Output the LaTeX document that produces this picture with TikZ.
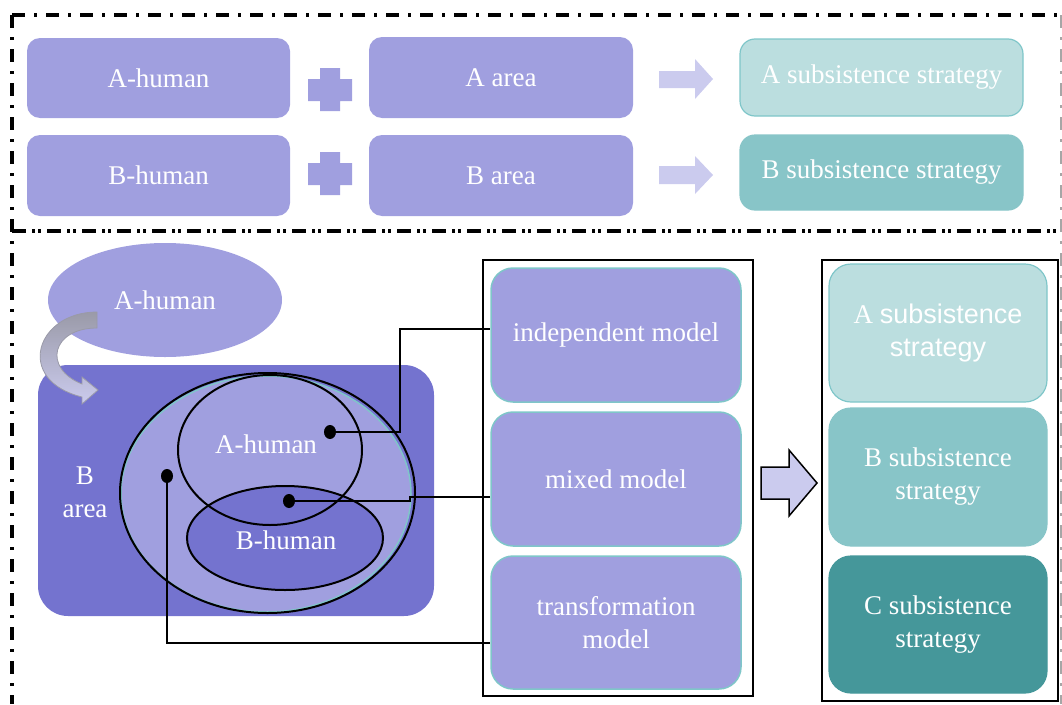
\documentclass[tikz,border=0pt]{standalone}
\usepackage{fontspec}
\setmainfont{Liberation Serif}
\newfontfamily\sansf{Liberation Sans}
\usetikzlibrary{shapes.geometric}
\definecolor{lav}{HTML}{A09FDF}
\definecolor{lavdark}{HTML}{7473CF}
\definecolor{lavlight}{HTML}{CBCBEE}
\definecolor{tealA}{HTML}{BBDEDF}
\definecolor{tealB}{HTML}{88C5C8}
\definecolor{tealC}{HTML}{45979A}
\definecolor{tealedge}{HTML}{7FC6C9}
\definecolor{arrgray}{HTML}{9A9AA8}
\tikzset{
  lbl/.style={text=white, font=\fontsize{27}{33}\selectfont, align=center, inner sep=0pt},
  topbox/.style={lbl, fill=lav, rounded corners=13pt},
  strbox/.style={lbl, rounded corners=15pt, line width=1.2pt},
  modelbox/.style={lbl, fill=lav, draw=tealedge, line width=1.5pt, rounded corners=22pt},
  frame/.style={draw=black, line width=1.5pt, inner sep=0pt},
  dot/.style={ellipse, fill=black, minimum width=12pt, minimum height=14pt, inner sep=0pt},
  ring/.style={ellipse, draw=black, line width=2pt, inner sep=0pt},
  conn/.style={draw=black, line width=2pt},
  dashdot/.style={line width=3.2pt, dash pattern=on 13pt off 9pt on 3pt off 9pt},
  dashdotdot/.style={line width=3.2pt, dash pattern=on 14pt off 6pt on 3pt off 3pt on 3pt off 6pt},
}
\begin{document}
\begin{tikzpicture}[x=1pt,y=-1pt]
\useasboundingbox (0,0) rectangle (1062,704);
% borders
\draw[dashdot] (12,15) -- (1062,15);
\draw[dashdot] (12,15) -- (12,704);
\draw[dashdot, line width=1.5pt, draw=black!35] (1061,15) -- (1061,704);
\draw[dashdotdot] (12,231) -- (1062,231);

% top row
\node[topbox, minimum width=263pt, minimum height=80pt] (ah) at (158.5,78) {A-human};
\node[topbox, minimum width=263pt, minimum height=81pt] (bh) at (158.5,175.5) {B-human};
\node[topbox, minimum width=264pt, minimum height=81pt] (aa) at (501,77.5) {A area};
\node[topbox, minimum width=264pt, minimum height=81pt] (ba) at (501,175.5) {B area};
\fill[lav] (320,68) rectangle (340,111) (308,79) rectangle (352,101);
\fill[lav] (320,152) rectangle (340,195) (308,163) rectangle (352,185);
\fill[lavlight] (659,71) -- (695,71) -- (695,59) -- (713,79) -- (695,99) -- (695,88) -- (659,88) -- cycle;
\fill[lavlight] (659,166) -- (695,166) -- (695,156) -- (713,175) -- (695,194) -- (695,184) -- (659,184) -- cycle;
\node[strbox, fill=tealA, draw=tealedge, minimum width=283pt, minimum height=77pt] (as) at (881.5,77.5) {A subsistence strategy};
\node[strbox, fill=tealB, draw=tealB, minimum width=283pt, minimum height=75pt] (bs) at (881.5,172.5) {B subsistence strategy};

% bottom left scene
\node[ellipse, fill=lav, minimum width=234pt, minimum height=114pt, inner sep=0pt] (ae) at (165,300) {};
\node[lbl] (aet) at (165,300) {A-human};
\node[fill=lavdark, rounded corners=30pt, minimum width=396pt, minimum height=251pt, inner sep=0pt] (barea) at (236,490.5) {};
\node[lbl] (bat) at (85,492) {B\\area};
\node[ellipse, fill=lav, draw=tealedge, line width=1.5pt, minimum width=290pt, minimum height=236pt, inner sep=0pt] (big) at (266,494) {};
\node[ring, minimum width=295pt, minimum height=240pt] (bigo) at (267.5,493) {};
\node[ring, fill=lavdark, minimum width=196pt, minimum height=104pt] (bhe) at (285,538) {};
\node[ring, minimum width=184pt, minimum height=150pt] (ahe) at (270,450) {};
\node[lbl] (ahet) at (266,444) {A-human};
\node[lbl] (bhet) at (286,540) {B-human};

% curved arrow
\path[draw=arrgray, line width=0.8pt, top color=arrgray, bottom color=lavlight]
  (97,312) -- (97,328) .. controls (52,328) and (42,368) .. (82,384)
  -- (82,377) -- (98,390) -- (82,404) -- (82,397)
  .. controls (14,380) and (36,312) .. (97,312) -- cycle;

% frames and model boxes
\node[frame, minimum width=270pt, minimum height=436pt] (lf) at (618,478) {};
\node[frame, minimum width=236pt, minimum height=441pt] (rf) at (940,480.5) {};
\node[modelbox, minimum width=250pt, minimum height=134pt] (ind) at (616,335) {independent model};
\node[modelbox, minimum width=250pt, minimum height=134pt] (mix) at (616,479) {mixed model};
\node[modelbox, minimum width=250pt, minimum height=133pt] (tra) at (616,622.5) {transformation\\model};

\node[strbox, rounded corners=22pt, fill=tealA, draw=tealedge, minimum width=218pt, minimum height=138pt] (sa) at (938,333) {A {\sansf subsistence}\\{\sansf strategy}};
\node[strbox, rounded corners=22pt, fill=tealB, draw=tealB, minimum width=218pt, minimum height=138pt] (sb) at (938,477) {B subsistence\\strategy};
\node[strbox, rounded corners=22pt, fill=tealC, draw=tealC, minimum width=218pt, minimum height=137pt] (sc) at (938,624.5) {C subsistence\\strategy};

\draw[fill=lavlight, line width=1.5pt] (761,467) -- (789,467) -- (789,450) -- (817,483) -- (789,516) -- (789,499) -- (761,499) -- cycle;

% dots and connectors
\node[dot] (d1) at (330,432) {};
\node[dot] (d2) at (289,501) {};
\node[dot] (d3) at (167,476) {};
\coordinate (c1) at (400,329);
\coordinate (c2) at (410,497);
\coordinate (c3) at (167,643);
\draw[conn] (d1.center) -- (400,432) -- (c1) -- (c1 -| ind.west);
\draw[conn] (d2.center) -- (410,501) -- (c2) -- (c2 -| mix.west);
\draw[conn] (d3.center) -- (c3) -- (c3 -| tra.west);
\end{tikzpicture}
\end{document}
